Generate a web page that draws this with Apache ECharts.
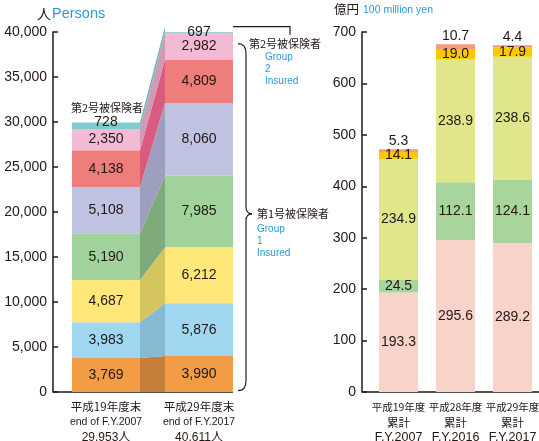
<!DOCTYPE html>
<html>
<head>
<meta charset="utf-8">
<script src="https://cdn.jsdelivr.net/npm/echarts@6/dist/echarts.min.js"></script>
<style>
  html, body { margin: 0; padding: 0; background: #ffffff; }
  #c { width: 539px; height: 441px; }
</style>
</head>
<body>
<div id="c"></div>
<script>
// ---- Insured persons (people), stacked from the bottom up ----
const personYearJa = ['平成19年度末', '平成29年度末'];
const personYearEn = ['end of F.Y.2007', 'end of F.Y.2017'];
const personTotals = ['29,953人', '40,611人'];
const persons2007 = [3769, 3983, 4687, 5190, 5108, 4138, 2350, 728];
const persons2017 = [3990, 5876, 6212, 7985, 8060, 4809, 2982, 697];
const personTicks = [0, 40000, 5000];

// ---- Cumulative spending (100 million yen), stacked from the bottom up ----
const spendYearJa = ['平成19年度', '平成28年度', '平成29年度'];
const spendYearSub = ['累計', '累計', '累計'];
const spendYearEn = ['F.Y.2007', 'F.Y.2016', 'F.Y.2017'];
const spendPink = [193.3, 295.6, 289.2];
const spendGreen = [24.5, 112.1, 124.1];
const spendLime = [234.9, 238.9, 238.6];
const spendGold = [14.1, 19.0, 17.9];
const spendSalmon = [5.3, 10.7, 4.4];
const spendTicks = [0, 700, 100];

// ---- styling ----
const FONT = '"Liberation Sans", "Noto Sans CJK JP", sans-serif';
const JP = '"Noto Sans CJK JP", "Liberation Sans", sans-serif';
const INK = '#231815';
const BLUE = '#2a9ad6';
const personColors = ['#f29c45', '#a2d7f2', '#ffe779', '#a1d29b', '#c0c2e2', '#ee7d7b', '#f3bad4', '#80cbd0'];
const bandColors   = ['#c67e3b', '#86bad2', '#d5c55f', '#7eaa7c', '#9d9fbf', '#db5b80', '#cf9bb2', '#6fb8bd'];
const spendColors  = ['#f8d3ca', '#a8d59b', '#e2e68b', '#fcc800', '#f39b7a'];
const BAR_L = 68;
const BAR_R = 39;

const cumulate = arr => arr.reduce((acc, v) => { acc.push(acc[acc.length - 1] + v); return acc; }, [0]);
const cum07 = cumulate(persons2007);
const cum17 = cumulate(persons2017);

const chart = echarts.init(document.getElementById('c'), null, { renderer: 'canvas' });

const valueLabel = { show: true, color: INK, fontSize: 14, fontFamily: FONT };

const personSeries = persons2007.map((v, i) => ({
  type: 'bar', xAxisIndex: 0, yAxisIndex: 0, stack: 'persons', barWidth: BAR_L,
  data: [persons2007[i], persons2017[i]],
  itemStyle: { color: personColors[i] },
  label: Object.assign({}, valueLabel, i === persons2007.length - 1
    ? { position: 'top', distance: -7 }
    : { position: 'inside' },
    { formatter: p => p.value.toLocaleString('en-US') }),
  silent: true, z: 2
}));

// darker bands joining each layer of the two bars
const bandSeries = {
  type: 'custom', xAxisIndex: 0, yAxisIndex: 0, silent: true, z: 1,
  encode: { x: 0, y: 1 },
  data: persons2007.map((_, i) => [0, 0, i]),
  renderItem(params, api) {
    const i = api.value(2);
    const half = BAR_L / 2;
    const a0 = api.coord([0, cum07[i]]), a1 = api.coord([0, cum07[i + 1]]);
    const b0 = api.coord([1, cum17[i]]), b1 = api.coord([1, cum17[i + 1]]);
    return {
      type: 'polygon',
      shape: { points: [[a0[0] + half, a0[1]], [b0[0] - half, b0[1]], [b1[0] - half, b1[1]], [a1[0] + half, a1[1]]] },
      style: { fill: bandColors[i] }
    };
  }
};

const spendData = [spendPink, spendGreen, spendLime, spendGold, spendSalmon];
const spendSeries = spendData.map((arr, i) => ({
  type: 'bar', xAxisIndex: 1, yAxisIndex: 1, stack: 'spend', barWidth: BAR_R,
  data: arr,
  itemStyle: { color: spendColors[i] },
  label: Object.assign({}, valueLabel, i === spendData.length - 1
    ? { position: 'top', distance: 1 }
    : { position: 'inside' },
    { formatter: p => p.value.toFixed(1) }),
  silent: true, z: 2
}));

const yAxisBase = {
  type: 'value',
  axisLine: { show: true, lineStyle: { color: INK, width: 1.5 } },
  axisTick: { show: true, inside: true, length: 5, lineStyle: { color: INK, width: 1.5 } },
  splitLine: { show: false },
  axisLabel: { color: INK, fontSize: 14, fontFamily: FONT, margin: 6, formatter: v => v.toLocaleString('en-US') }
};

chart.setOption({
  animation: false,
  textStyle: { fontFamily: FONT },
  grid: [
    { left: 59.5, top: 32, width: 186, height: 360, outerBoundsMode: 'none', containLabel: false },
    { left: 370, top: 32, width: 171, height: 360, outerBoundsMode: 'none', containLabel: false }
  ],
  xAxis: [
    {
      type: 'category', gridIndex: 0, data: personYearJa,
      axisLine: { show: false }, axisTick: { show: false },
      axisLabel: {
        interval: 0, margin: 7,
        formatter: (v, i) => `{a|${personYearJa[i]}}\n{b|${personYearEn[i]}}\n{c|${personTotals[i]}}`,
        rich: {
          a: { fontSize: 11.5, lineHeight: 15.5, color: INK, fontFamily: JP },
          b: { fontSize: 10.5, lineHeight: 15.5, color: INK, fontFamily: FONT },
          c: { fontSize: 12, lineHeight: 15.5, color: INK, fontFamily: FONT }
        }
      }
    },
    {
      type: 'category', gridIndex: 1, data: spendYearJa,
      axisLine: { show: false }, axisTick: { show: false },
      axisLabel: {
        interval: 0, margin: 7,
        formatter: (v, i) => `{a|${spendYearJa[i]}}\n{s|${spendYearSub[i]}}\n{b|${spendYearEn[i]}}`,
        rich: {
          a: { fontSize: 10.5, lineHeight: 15.5, color: INK, fontFamily: JP },
          s: { fontSize: 11.5, lineHeight: 15.5, color: INK, fontFamily: JP },
          b: { fontSize: 12.5, lineHeight: 15.5, color: INK, fontFamily: FONT }
        }
      }
    }
  ],
  yAxis: [
    Object.assign({}, yAxisBase, { gridIndex: 0, min: personTicks[0], max: personTicks[1], interval: personTicks[2], offset: 6.5 }),
    Object.assign({}, yAxisBase, { gridIndex: 1, min: spendTicks[0], max: spendTicks[1], interval: spendTicks[2], offset: 8 })
  ],
  series: [bandSeries].concat(personSeries, spendSeries)
});

// ---- annotations placed from the axes' own scales ----
const L = (cat, v) => chart.convertToPixel({ xAxisIndex: 0, yAxisIndex: 0 }, [cat, v]);
const R = (cat, v) => chart.convertToPixel({ xAxisIndex: 1, yAxisIndex: 1 }, [cat, v]);

const base07 = L(personYearJa[0], 0);
const base17 = L(personYearJa[1], 0);
const right17 = base17[0] + BAR_L / 2;
const leftAxisX = 53;
const rightAxisX = 362;
const rBase = R(spendYearJa[0], 0);

const teal17 = L(personYearJa[1], (cum17[7] + cum17[8]) / 2);
const teal07Top = L(personYearJa[0], cum07[8]);
const braceTop = L(personYearJa[1], 38700)[1];
const braceMid = L(personYearJa[1], 19800)[1];
const braceBot = L(personYearJa[1], 150)[1];
const bx = right17 + 13;
const hookX = right17 + 5;

const stroke = { stroke: INK, lineWidth: 1.2, fill: null };
const curve = (x1, y1, cx, cy, x2, y2) => ({
  type: 'bezierCurve', shape: { x1, y1, cpx1: cx, cpy1: cy, x2, y2 }, style: stroke, silent: true
});
const seg = (x1, y1, x2, y2) => ({ type: 'line', shape: { x1, y1, x2, y2 }, style: stroke, silent: true });

const txt = (x, y, text, size, color, family, align) => ({
  type: 'text', x, y,
  style: { text, fill: color, fontSize: size, fontFamily: family, align: align || 'left', verticalAlign: 'middle' },
  silent: true
});

chart.setOption({
  graphic: [
    // baselines
    { type: 'line', shape: { x1: leftAxisX, y1: base07[1], x2: right17, y2: base07[1] }, style: { stroke: INK, lineWidth: 1.5 }, silent: true },
    { type: 'line', shape: { x1: rightAxisX, y1: rBase[1], x2: 539, y2: rBase[1] }, style: { stroke: INK, lineWidth: 1.5 }, silent: true },
    // unit titles
    txt(37, 14, '人', 14, INK, JP),
    txt(52, 14, 'Persons', 14.5, BLUE, FONT),
    txt(334, 9, '億円', 12.5, INK, JP),
    txt(363, 10, '100 million yen', 10.5, BLUE, FONT),
    // group 2 label over the first bar
    txt(base07[0] + 1, teal07Top[1] - 15, '第2号被保険者', 11, INK, JP, 'center'),
    // group 2 bracket on the second bar
    { type: 'polyline', shape: { points: [[right17, teal17[1] - 3], [right17 + 57, teal17[1] - 3], [right17 + 57, teal17[1] + 5]] },
      style: stroke, silent: true },
    txt(249, 44, '第2号被保険者', 11, INK, JP),
    txt(265, 57, 'Group', 10, BLUE, FONT),
    txt(265, 69, '2', 10, BLUE, FONT),
    txt(265, 81, 'Insured', 10, BLUE, FONT),
    // group 1 brace
    curve(hookX, braceTop, bx, braceTop, bx, braceTop + 10),
    seg(bx, braceTop + 10, bx, braceMid - 7),
    curve(bx, braceMid - 7, bx, braceMid, bx + 6, braceMid),
    curve(bx + 6, braceMid, bx, braceMid, bx, braceMid + 7),
    seg(bx, braceMid + 7, bx, braceBot - 10),
    curve(bx, braceBot - 10, bx, braceBot, hookX, braceBot),
    txt(257, braceMid, '第1号被保険者', 11, INK, JP),
    txt(257, braceMid + 15, 'Group', 10, BLUE, FONT),
    txt(257, braceMid + 27, '1', 10, BLUE, FONT),
    txt(257, braceMid + 39, 'Insured', 10, BLUE, FONT)
  ]
});
</script>
</body>
</html>
